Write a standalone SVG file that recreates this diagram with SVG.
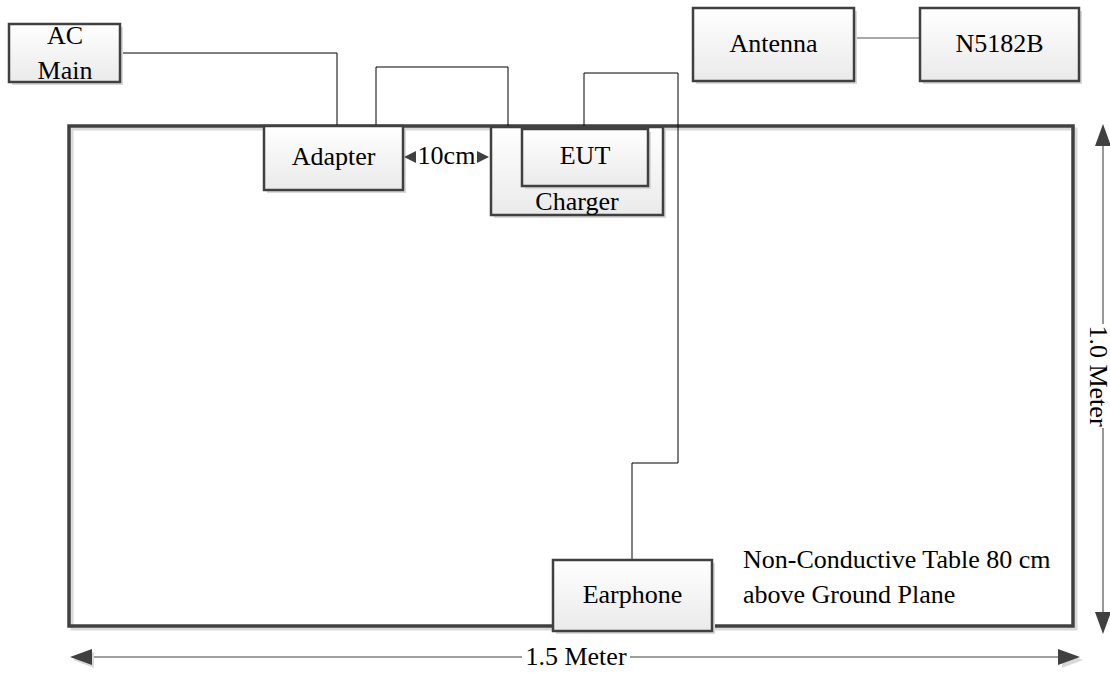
<svg xmlns="http://www.w3.org/2000/svg" width="1110" height="673" viewBox="0 0 1110 673">
  <defs>
    <linearGradient id="boxFill" x1="0" y1="0" x2="0" y2="1">
      <stop offset="0" stop-color="#ffffff"/>
      <stop offset="1" stop-color="#eaeaea"/>
    </linearGradient>
    <style>
      .box { fill: url(#boxFill); stroke: #404040; stroke-width: 2.5; }
      .shadow { fill: #d9d9d9; stroke: none; }
      .label { font-family: "Liberation Serif", "DejaVu Serif", serif; font-size: 26px; fill: #000; }
      .mid { text-anchor: middle; }
      .wire { fill: none; stroke: #000; stroke-width: 1; }
      .dim { fill: none; stroke: #7f7f7f; stroke-width: 1.6; }
      .head { fill: #404040; }
      .headShadow { fill: #d9d9d9; }
    </style>
  </defs>

  <rect width="1110" height="673" fill="#ffffff"/>

  <!-- Table outline -->
  <g id="table">
    <rect x="72" y="129" width="1004" height="500" fill="none" stroke="#d9d9d9" stroke-width="3"/>
    <rect x="69" y="126" width="1004" height="500" fill="none" stroke="#404040" stroke-width="3.5"/>
    <text class="label" x="743" y="568">Non-Conductive Table 80 cm</text>
    <text class="label" x="743" y="603">above Ground Plane</text>
  </g>

  <!-- Cables -->
  <g id="connectors">
    <polyline class="wire" points="120,53 337,53 337,126"/>
    <polyline class="wire" points="376,126 376,67 508,67 508,126"/>
    <polyline class="wire" points="584,129 584,73 678,73 678,463 632,463 632,560"/>
    <line x1="854" y1="38" x2="920" y2="38" stroke="#555" stroke-width="1.2"/>
  </g>

  <!-- Equipment -->
  <g id="ac-main">
    <rect class="shadow" x="12" y="27" width="111" height="58"/>
    <rect class="box" x="9" y="24" width="111" height="58"/>
    <text class="label mid" x="65" y="44">AC</text>
    <text class="label mid" x="65" y="79">Main</text>
  </g>

  <g id="adapter">
    <rect class="shadow" x="267" y="129" width="139" height="64"/>
    <rect class="box" x="264" y="126" width="139" height="64"/>
    <text class="label mid" x="333.5" y="165">Adapter</text>
  </g>

  <g id="charger">
    <rect class="shadow" x="494" y="130" width="172" height="88"/>
    <rect class="box" x="491" y="127" width="172" height="88"/>
    <text class="label mid" x="577" y="210">Charger</text>
  </g>

  <g id="eut">
    <rect class="shadow" x="525" y="132" width="126" height="57"/>
    <rect class="box" x="522" y="129" width="126" height="57"/>
    <text class="label mid" x="585" y="164">EUT</text>
  </g>

  <g id="antenna">
    <rect class="shadow" x="696" y="11" width="161" height="73"/>
    <rect class="box" x="693" y="8" width="161" height="73"/>
    <text class="label mid" x="773.5" y="52">Antenna</text>
  </g>

  <g id="n5182b">
    <rect class="shadow" x="923" y="11" width="159" height="73"/>
    <rect class="box" x="920" y="8" width="159" height="73"/>
    <text class="label mid" x="999.5" y="52">N5182B</text>
  </g>

  <g id="earphone">
    <rect class="shadow" x="556" y="563" width="159" height="71"/>
    <rect class="box" x="553" y="560" width="159" height="71"/>
    <text class="label mid" x="632.5" y="603">Earphone</text>
  </g>

  <!-- Spacing between adapter and charger -->
  <g id="spacing-10cm">
    <polygon class="head" points="404,157 416,151 416,163"/>
    <polygon class="head" points="489,157 477,151 477,163"/>
    <text class="label mid" x="446.5" y="164">10cm</text>
  </g>

  <!-- Table dimensions -->
  <g id="dimensions">
    <line class="dim" x1="88" y1="657" x2="522" y2="657"/>
    <line class="dim" x1="630" y1="657" x2="1062" y2="657"/>
    <polygon class="headShadow" points="73,660 94,652 94,668"/>
    <polygon class="head" points="70,657 92,649 92,665"/>
    <polygon class="headShadow" points="1083,660 1062,652 1062,668"/>
    <polygon class="head" points="1080,657 1058,649 1058,665"/>
    <text class="label mid" x="576" y="665">1.5 Meter</text>

    <line class="dim" x1="1103" y1="143" x2="1103" y2="324"/>
    <line class="dim" x1="1103" y1="428" x2="1103" y2="615"/>
    <polygon class="head" points="1103,124 1095,146 1111,146"/>
    <polygon class="head" points="1103,634 1095,612 1111,612"/>
    <text class="label mid" transform="translate(1090,376) rotate(90)">1.0 Meter</text>
  </g>
</svg>
